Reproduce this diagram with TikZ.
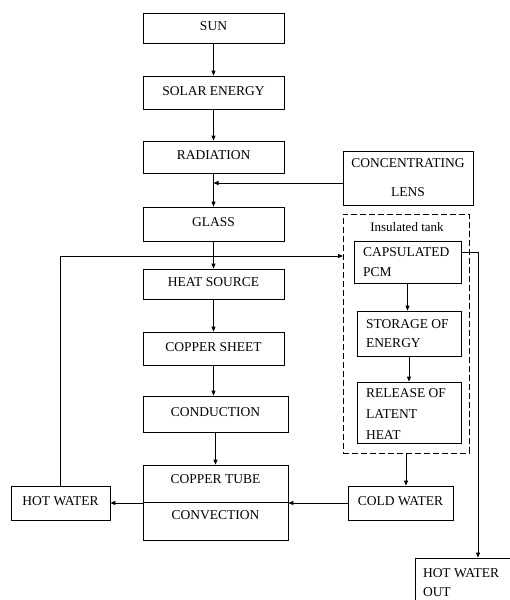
\documentclass[tikz,border=0pt]{standalone}
\usepackage{fontspec}
\setmainfont{Liberation Serif}
\usetikzlibrary{arrows.meta}
\begin{document}
\begin{tikzpicture}[x=1pt,y=-1pt,
  every node/.style={font=\fontsize{13.5}{20}\selectfont},
  box/.style={draw, line width=0.8pt, inner sep=0pt, text height=9pt, text depth=4pt},
  mbox/.style={draw, line width=0.8pt, inner xsep=9pt, inner ysep=0pt, align=flush left},
  plain/.style={inner sep=0pt},
  arr/.style={line width=0.8pt, -{Triangle[length=5pt,width=4pt]}},
  ln/.style={line width=0.8pt}
]
\useasboundingbox (0,0) rectangle (510,600);
\clip (0,0) rectangle (510,600);
% main column
\node[box, minimum width=141pt, minimum height=30pt] (sun) at (213.5,28) {SUN};
\node[box, minimum width=141pt, minimum height=33pt] (solar) at (213.5,92.5) {SOLAR ENERGY};
\node[box, minimum width=141pt, minimum height=32pt] (rad) at (213.5,157) {RADIATION};
\node[box, minimum width=141pt, minimum height=34pt] (glass) at (213.5,224) {GLASS};
\node[box, minimum width=141pt, minimum height=30pt] (heat) at (213.5,284) {HEAT SOURCE};
\node[box, minimum width=141pt, minimum height=33pt] (sheet) at (213.5,348.5) {COPPER SHEET};
\node[box, minimum width=145pt, minimum height=36pt] (cond) at (215.5,414) {CONDUCTION};
\node[draw, line width=0.8pt, minimum width=145pt, minimum height=75pt] (tube) at (215.5,502.5) {};
\node[plain] (tubetxt) at (215.5,479) {COPPER TUBE};
\node[plain] (convtxt) at (215.5,515) {CONVECTION};
\draw[ln] (tube.west) -- (tube.east);
\node[box, minimum width=99pt, minimum height=34pt] (hot) at (60.5,503) {HOT WATER};
\node[box, minimum width=105pt, minimum height=34pt] (cold) at (400.5,503) {COLD WATER};
% lens
\node[draw, line width=0.8pt, minimum width=130pt, minimum height=54pt, align=center,
  font=\fontsize{13.5}{29}\selectfont] (lens) at (408,178) {CONCENTRATING\\LENS};
% tank
\node[draw, dashed, dash pattern=on 6pt off 3pt, line width=0.8pt, minimum width=126pt, minimum height=239pt] (tank) at (406,333.5) {};
\node[plain, font=\fontsize{13}{15}\selectfont] (tanklbl) at (407,227) {Insulated tank};
\node[mbox, text width=89pt, minimum height=42pt] (pcm) at (407.5,262) {CAPSULATED\\PCM};
\node[mbox, text width=86pt, minimum height=45pt, font=\fontsize{13.5}{19}\selectfont] (storage) at (409,333.5) {STORAGE OF\\ENERGY};
\node[draw, line width=0.8pt, minimum width=104pt, minimum height=61pt] (release) at (409,412.5) {};
\begin{scope}
  \clip (357,382) rectangle (461,438.5);
  \node[plain, text width=86pt, align=flush left, font=\fontsize{13.5}{21}\selectfont] (reltxt) at (409,414) {RELEASE OF\\LATENT\\HEAT};
\end{scope}
% hot water out
\node[draw, line width=0.8pt, inner xsep=8pt, inner ysep=0pt, text width=110pt, align=flush left, minimum height=50pt,
  font=\fontsize{13.5}{19}\selectfont] (hotout) at (478,583) {HOT WATER\\OUT};
% connectors
\draw[arr] (sun) -- (solar);
\draw[arr] (solar) -- (rad);
\draw[arr] (rad) -- (glass);
\draw[arr] ([yshift=-5pt]lens.west) -- ([yshift=-5pt]lens.west -| rad.south);
\draw[arr] (glass) -- (heat);
\draw[arr] (heat) -- (sheet);
\draw[arr] (sheet.south) -- (sheet.south |- cond.north);
\draw[arr] (cond) -- (tube);
\draw[arr] (cold.west) -- (cold.west -| tube.east);
\draw[arr] (tube.west |- hot.east) -- (hot.east);
\coordinate (fb) at (343,256);
\draw[arr] (hot.north) |- (fb);
\draw[arr] ([yshift=10pt]pcm.east) -| (hotout.north);
\draw[arr] (pcm.south) -- (pcm.south |- storage.north);
\draw[arr] (storage.south) -- (storage.south |- release.north);
\draw[arr] (tank.south) -- (tank.south |- cold.north);
\end{tikzpicture}
\end{document}
